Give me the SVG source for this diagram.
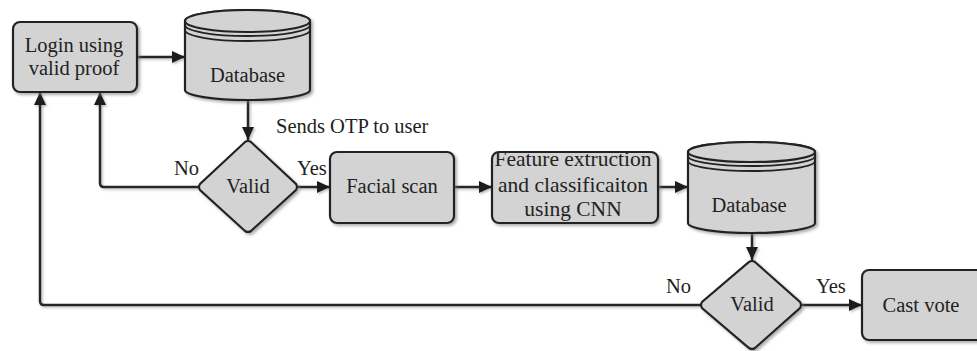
<svg xmlns="http://www.w3.org/2000/svg" width="977" height="351" viewBox="0 0 977 351">
<defs>
<filter id="sh" x="-10%" y="-10%" width="130%" height="130%">
<feDropShadow dx="2" dy="2" stdDeviation="1.5" flood-color="#777" flood-opacity="0.6"/>
</filter>
<filter id="shl" filterUnits="userSpaceOnUse" x="0" y="0" width="977" height="351">
<feDropShadow dx="1.5" dy="1.5" stdDeviation="1.2" flood-color="#777" flood-opacity="0.5"/>
</filter>
<marker id="ah" viewBox="0 0 13 12" refX="13" refY="6" markerWidth="13" markerHeight="12" markerUnits="userSpaceOnUse" orient="auto">
<path d="M0,0 L13,6 L0,12 Z" fill="#1a1a1a"/>
</marker>
</defs>
<style>
.box{fill:#d3d3d3;stroke:#222;stroke-width:2.2;filter:url(#sh)}
.db{fill:#d3d3d3;stroke:#222;stroke-width:2.2}
.band{fill:none;stroke:#222;stroke-width:1.8}
.t{font-family:'Liberation Serif','Times New Roman',serif;font-size:20.5px;fill:#222;text-anchor:middle}
.lbl{font-family:'Liberation Serif','Times New Roman',serif;font-size:20.5px;fill:#222}
.f{font-size:21.5px}
.c{fill:none;stroke:#262626;stroke-width:2.5}
</style>
<rect width="977" height="351" fill="#fff"/>

<g id="connectors" filter="url(#shl)">
<path class="c" d="M137,57 H185" marker-end="url(#ah)"/>
<path class="c" d="M248,100 V140" marker-end="url(#ah)"/>
<path class="c" d="M298,187 H330" marker-end="url(#ah)"/>
<path class="c" d="M454,187 H492" marker-end="url(#ah)"/>
<path class="c" d="M658,187 H688" marker-end="url(#ah)"/>
<path class="c" d="M752,233 V260" marker-end="url(#ah)"/>
<path class="c" d="M802,305 H862" marker-end="url(#ah)"/>
<path class="c" d="M198,187 H104 Q100,187 100,183 V92" marker-end="url(#ah)"/>
<path class="c" d="M700,305 H44 Q40,305 40,301 V92" marker-end="url(#ah)"/>
</g>
<g id="labels">
<text class="lbl" x="276" y="133">Sends OTP to user</text>
<text class="lbl" x="174" y="175">No</text>
<text class="lbl" x="297" y="175">Yes</text>
<text class="lbl" x="666" y="293">No</text>
<text class="lbl" x="816" y="293">Yes</text>
</g>

<g id="login">
<rect class="box" x="13" y="22" width="124" height="70" rx="7"/>
<text class="t" x="74" y="52">Login using</text>
<text class="t" x="74" y="75">valid proof</text>
</g>

<g id="database1">
<g filter="url(#sh)">
<path class="db" d="M185,21 V90 A62.5,10 0 0 0 310,90 V21 A62.5,11 0 0 0 185,21 Z"/>
<ellipse class="db" cx="247.5" cy="21" rx="62.5" ry="11"/>
</g>
<path class="band" d="M185,25 A62.5,11 0 0 0 310,25"/>
<path class="band" d="M185,30 A62.5,11 0 0 0 310,30"/>
<text class="t" x="247.5" y="82">Database</text>
</g>

<g id="valid1">
<path class="box" d="M245,142 Q248,140 251,142 L296,184 Q298,187 296,190 L251,231 Q248,233 245,231 L200,190 Q198,187 200,184 Z"/>
<text class="t" x="248" y="193">Valid</text>
</g>

<g id="facial">
<rect class="box" x="330" y="152" width="124" height="71" rx="7"/>
<text class="t" x="392" y="193">Facial scan</text>
</g>

<g id="feature">
<rect class="box" x="492" y="152" width="166" height="71" rx="7"/>
<text class="t f" x="573" y="166">Feature extruction</text>
<text class="t f" x="573" y="192">and classificaiton</text>
<text class="t f" x="573" y="216">using CNN</text>
</g>

<g id="database2">
<g filter="url(#sh)">
<path class="db" d="M688,152 V223 A63.5,10 0 0 0 815,223 V152 A63.5,10 0 0 0 688,152 Z"/>
<ellipse class="db" cx="751.5" cy="152" rx="63.5" ry="10"/>
</g>
<path class="band" d="M688,156 A63.5,10 0 0 0 815,156"/>
<path class="band" d="M688,161 A63.5,10 0 0 0 815,161"/>
<text class="t" x="749" y="212">Database</text>
</g>

<g id="valid2">
<path class="box" d="M749,262 Q752,260 755,262 L800,302 Q802,305 800,308 L755,348 Q752,350 749,348 L702,308 Q700,305 702,302 Z"/>
<text class="t" x="752" y="311">Valid</text>
</g>

<g id="castvote">
<rect class="box" x="862" y="270" width="130" height="70" rx="7"/>
<text class="t" x="921" y="312">Cast vote</text>
</g>
</svg>
